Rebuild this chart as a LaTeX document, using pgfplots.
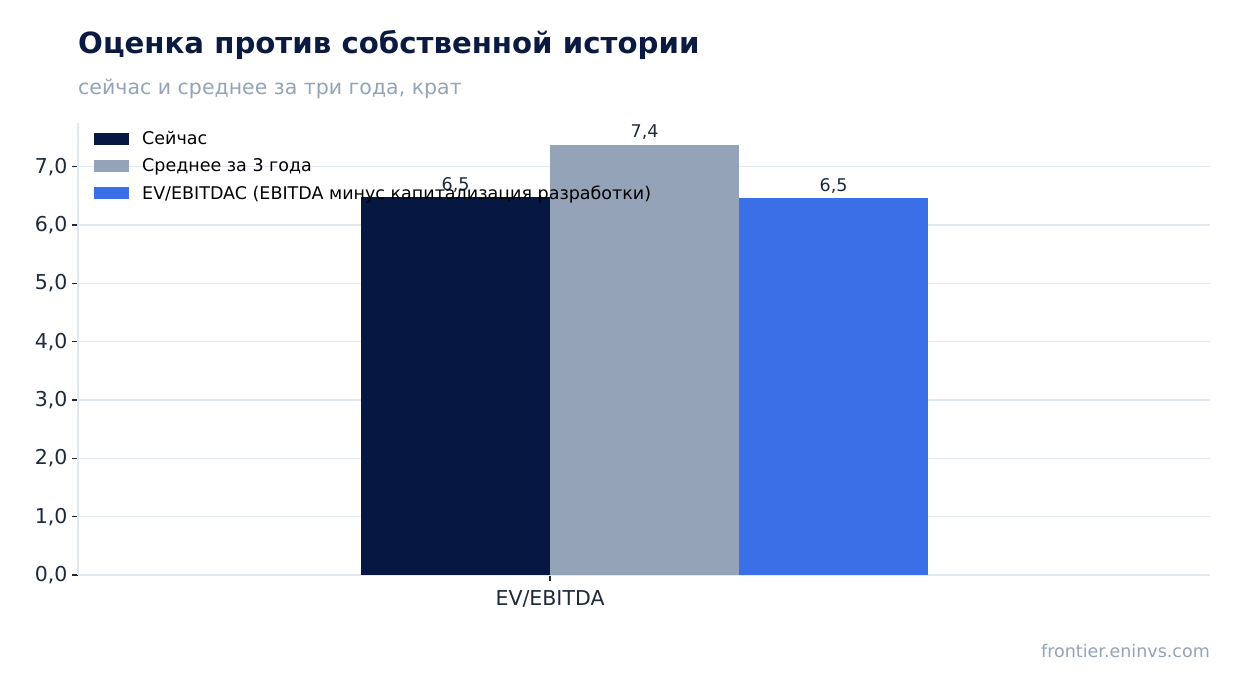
\documentclass[border=0pt]{standalone}
\usepackage{pgfplots}
\pgfplotsset{compat=1.18}
\usepackage{fontspec}
\setmainfont{DejaVu Sans}
\definecolor{navy}{HTML}{061741}
\definecolor{slate}{HTML}{94A3B8}
\definecolor{blu}{HTML}{3B6FE8}
\definecolor{gridc}{HTML}{E2E8F0}
\definecolor{txt}{HTML}{1E293B}
\definecolor{titlec}{HTML}{0B1A40}
\begin{document}
\begin{tikzpicture}[x=1pt,y=1pt]
\path (0,0) rectangle (1240,693);
\node[anchor=base west,inner sep=0pt,text=titlec,font=\fontsize{29.2}{33}\selectfont\bfseries] at (78,639.5) {Оценка против собственной истории};
\node[anchor=base west,inner sep=0pt,text=slate,font=\fontsize{20.5}{24}\selectfont] at (78,598.5) {сейчас и среднее за три года, крат};
\node[anchor=base east,inner sep=0pt,text=slate,font=\fontsize{17.5}{21}\selectfont] at (1210,35.5) {frontier.eninvs.com};
\begin{axis}[
  at={(78pt,118pt)}, anchor=south west,
  scale only axis, width=1132pt, height=452pt,
  xmin=-0.666, xmax=0.931, ymin=0, ymax=7.749,
  ybar=0pt, bar width=189pt,
  axis line style={gridc, line width=1.2pt},
  axis x line*=bottom, axis y line*=left,
  ymajorgrids, grid style={gridc, line width=1.2pt},
  xtick={0}, xticklabels={EV/EBITDA},
  ytick={0,1,2,3,4,5,6,7},
  tick style={txt, line width=1.2pt},
  major tick length=6pt,
  tick align=outside,
  yticklabel style={xshift=-1pt, /pgf/number format/.cd, fixed, fixed zerofill, precision=1, use comma, assume math mode=true},
  xticklabel style={yshift=-6.5pt},
  ticklabel style={font=\fontsize{20.5}{24}\selectfont, text=txt},
  nodes near coords={\pgfmathprintnumber[fixed,fixed zerofill,precision=1,use comma,assume math mode=true]{\pgfplotspointmeta}},
  every node near coord/.append style={font=\fontsize{17.5}{21}\selectfont, text=txt, yshift=1pt},
  legend style={draw=none, fill=none, at={(0,1)}, anchor=north west, xshift=13pt, yshift=-4pt,
    font=\fontsize{17.5}{21}\selectfont, row sep=8.5pt, legend cell align=left,
    /tikz/every odd column/.append style={column sep=11pt}},
  legend image code/.code={\fill[#1] (0pt,-6pt) rectangle (35pt,6pt);},
]
\addplot[fill=navy, draw=none, bar shift=-94.5pt] coordinates {(0,6.48)};
\addplot[fill=slate, draw=none, bar shift=94.5pt] coordinates {(0,7.38)};
\addplot[fill=blu, draw=none, bar shift=283.5pt] coordinates {(0,6.47)};
\legend{Сейчас, Среднее за 3 года, EV/EBITDAC (EBITDA минус капитализация разработки)}
\end{axis}
\end{tikzpicture}
\end{document}
